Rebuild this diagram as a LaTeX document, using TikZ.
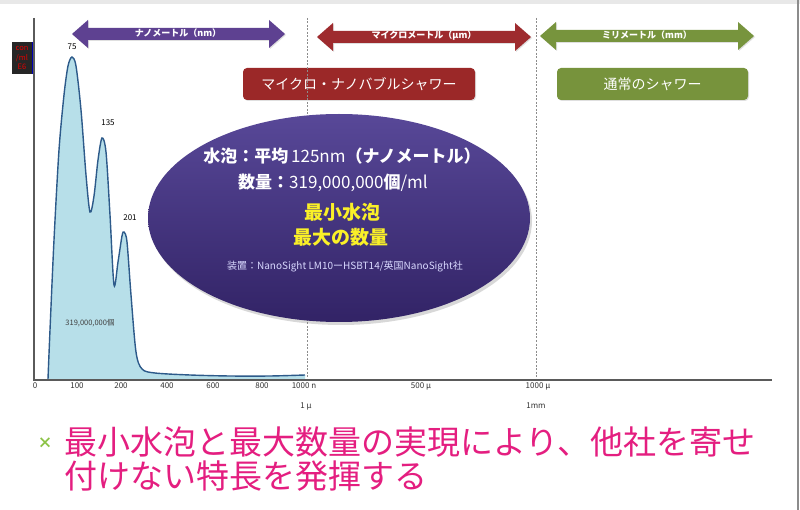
\documentclass[tikz,border=0pt]{standalone}
\usepackage{fontspec}
\setmainfont{Noto Sans CJK JP}
\usetikzlibrary{shadows,shapes.geometric}
\definecolor{nanopurple}{RGB}{94,65,145}
\definecolor{microred}{RGB}{158,43,46}
\definecolor{milligreen}{RGB}{119,148,61}
\definecolor{boxred}{RGB}{155,40,40}
\definecolor{boxgreen}{RGB}{119,147,60}
\definecolor{elltop}{RGB}{88,72,152}
\definecolor{ellmid}{RGB}{62,45,120}
\definecolor{ellbot}{RGB}{50,35,102}
\definecolor{chartfill}{RGB}{183,223,233}
\definecolor{chartline}{RGB}{45,90,138}
\definecolor{pinktext}{RGB}{228,30,128}
\definecolor{bulletgreen}{RGB}{140,195,70}
\definecolor{axisgray}{RGB}{90,90,90}
\definecolor{topband}{RGB}{232,232,232}
\definecolor{bubbleyellow}{RGB}{250,240,40}
\newcommand{\myfs}[1]{\fontsize{#1}{#1}\selectfont}
\newcommand{\dblarrowshape}[4]{%
  \fill[#4, drop shadow={opacity=0.25,shadow xshift=1pt,shadow yshift=-1pt}]
    (#1,#3) -- (#1+16,#3-14) -- (#1+16,#3-6) -- (#2-16,#3-6) -- (#2-16,#3-14)
    -- (#2,#3) -- (#2-16,#3+14) -- (#2-16,#3+6) -- (#1+16,#3+6) -- (#1+16,#3+14) -- cycle;}
\begin{document}
\begin{tikzpicture}[x=1pt,y=-1pt,
  arrowtext/.style={text=white, font=\myfs{9}\bfseries, inner sep=0},
  showerbox/.style={rounded corners=4pt, text=white, font=\myfs{14}, minimum height=32pt, inner sep=0,
    drop shadow={opacity=0.25,shadow xshift=1pt,shadow yshift=-1pt}},
  ticklabel/.style={font=\myfs{8}, text=black!80, inner sep=0},
  peaklabel/.style={font=\myfs{8}, text=black, inner sep=0},
  bubbletext/.style={text=white, font=\myfs{17}, inner sep=0},
  bubbleyel/.style={text=bubbleyellow, font=\myfs{19}\bfseries, inner sep=0},
  dashline/.style={draw=black!45, line width=0.6pt, dash pattern=on 2pt off 1.5pt},
  pinkline/.style={text=pinktext, font=\myfs{33}, inner sep=0, anchor=base west}]
\useasboundingbox (0,0) rectangle (800,510);
\fill[white] (0,0) rectangle (800,510);
\fill[topband] (0,0) rectangle (800,4);
\draw[black!45, line width=1.2pt] (798,0) -- (798,510);

% scale arrows
\dblarrowshape{72}{285}{34}{nanopurple}
\node[arrowtext] (nanolab) at (178,33) {ナノメートル（nm）};
\dblarrowshape{317}{531}{37}{microred}
\node[arrowtext] (microlab) at (424,36) {マイクロメートル（μm）};
\dblarrowshape{540}{754}{36}{milligreen}
\node[arrowtext] (millilab) at (647,35) {ミリメートル（mm）};

% shower boxes
\node[showerbox, fill=boxred, minimum width=232pt] (microbox) at (359,84) {マイクロ・ナノバブルシャワー};
\node[showerbox, fill=boxgreen, minimum width=191pt] (normalbox) at (652.5,84) {通常のシャワー};

% chart area
\fill[chartfill] plot[smooth,tension=0.5] coordinates {(48,379) (50,330) (54,240) (59,150) (64,95) (68,66) (72,57) (76,66) (81,110) (86,175) (90,212) (94,196) (98,160) (102,138) (106,152) (110,215) (114,285) (118,262) (122,236) (124,232) (127,242) (131,295) (136,352) (142,369) (155,373) (190,375) (230,376) (270,376) (305,375)} -- (305,379) -- cycle;
\draw[chartline, line width=1.4pt] plot[smooth,tension=0.5] coordinates {(48,379) (50,330) (54,240) (59,150) (64,95) (68,66) (72,57) (76,66) (81,110) (86,175) (90,212) (94,196) (98,160) (102,138) (106,152) (110,215) (114,285) (118,262) (122,236) (124,232) (127,242) (131,295) (136,352) (142,369) (155,373) (190,375) (230,376) (270,376) (305,375)};

% dashed separators
\draw[dashline] (307,18) -- (307,380);
\draw[dashline] (536,18) -- (536,380);

% axes
\draw[axisgray, line width=1.8pt] (34,18) -- (34,381);
\draw[axisgray, line width=1.4pt] (34,380) -- (772,380);

% y label
\node[fill=black!85, text=red!90!black, minimum width=20pt, minimum height=32pt, inner sep=0, align=center,
  font=\fontsize{7.5}{9.5}\selectfont] (ylab) at (22,58) {con\\/ml\\E6};
\draw[blue!70!black, line width=0.8pt] (ylab.north east) -- (ylab.south east);

% peak labels
\node[peaklabel] (p1) at (72,47) {75};
\node[peaklabel] (p2) at (108,123) {135};
\node[peaklabel] (p3) at (130,218) {201};
\node[font=\myfs{7.5}, text=black!75, inner sep=0] (total) at (90,323) {319,000,000個};

% tick labels
\node[ticklabel] (t0) at (35,386) {0};
\node[ticklabel] (t100) at (77,386) {100};
\node[ticklabel] (t200) at (121,386) {200};
\node[ticklabel] (t400) at (167,386) {400};
\node[ticklabel] (t600) at (213,386) {600};
\node[ticklabel] (t800) at (262,386) {800};
\node[ticklabel] (t1000) at (304,386) {1000 n};
\node[ticklabel] (t500u) at (421,386) {500 μ};
\node[ticklabel] (t1000u) at (538,386) {1000 μ};
\node[ticklabel] (u1) at (306,406) {1 μ};
\node[ticklabel] (u1mm) at (536,406) {1mm};

% bubble ellipse
\node[ellipse, minimum width=382pt, minimum height=208pt, inner sep=0,
  top color=elltop, middle color=ellmid, bottom color=ellbot,
  drop shadow={opacity=0.3,shadow xshift=2pt,shadow yshift=-3pt}] (bubble) at (339,218) {};
\node[bubbletext] (b1) at (342,156) {{\bfseries 水泡：平均}\,125nm{\bfseries（ナノメートル）}};
\node[bubbletext] (b2) at (333,183) {{\bfseries 数量：}319,000,000{\bfseries 個}/ml};
\node[bubbleyel] (b3) at (342,212) {最小水泡};
\node[bubbleyel] (b4) at (341,237) {最大の数量};
\node[text=white!85!blue, font=\myfs{10}, inner sep=0] (b5) at (345,267) {装置：NanoSight LM10ーHSBT14/英国NanoSight社};

% bottom message
\node[text=bulletgreen, font=\myfs{15}\bfseries, inner sep=0] (bullet) at (45,443) {×};
\node[pinkline] (msg1) at (64,454) {最小水泡と最大数量の実現により、他社を寄せ};
\node[pinkline] (msg2) at (64,488) {付けない特長を発揮する};
\end{tikzpicture}
\end{document}
